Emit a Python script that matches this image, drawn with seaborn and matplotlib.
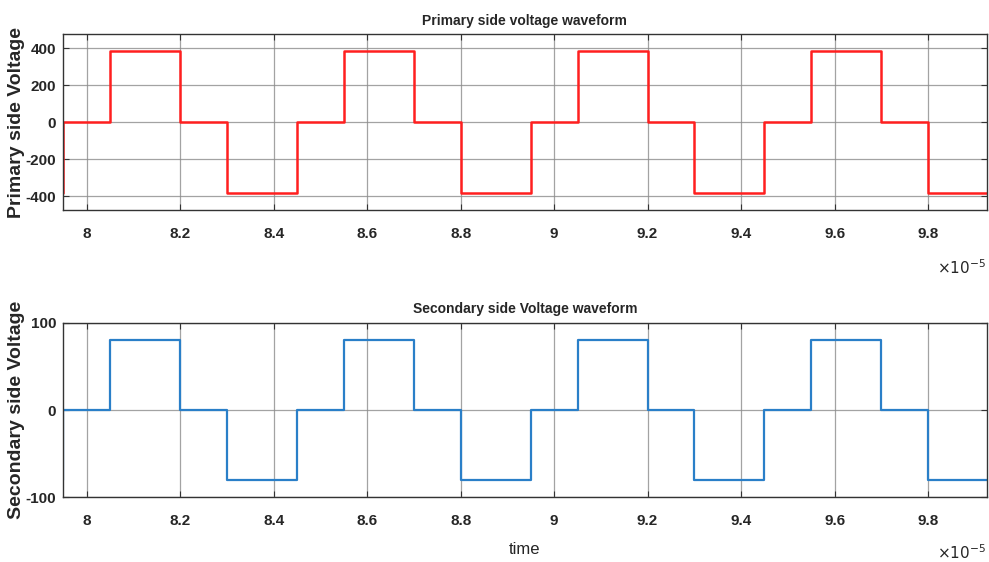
import numpy as np
import pandas as pd
import matplotlib
matplotlib.use("Agg")
import matplotlib.pyplot as plt
import seaborn as sns

# breakpoints of the step waveforms (units of 1e-5 s)
t_break = [7.90, 7.95, 8.05, 8.20, 8.30, 8.45, 8.55, 8.70, 8.80, 8.95,
           9.05, 9.20, 9.30, 9.45, 9.55, 9.70, 9.80, 9.95]
primary_v = [-385, 0, 385, 0, -385, 0, 385, 0, -385, 0,
             385, 0, -385, 0, 385, 0, -385, -385]
secondary_v = [-80, 0, 80, 0, -80, 0, 80, 0, -80, 0,
               80, 0, -80, 0, 80, 0, -80, -80]

x_ticks = [8, 8.2, 8.4, 8.6, 8.8, 9, 9.2, 9.4, 9.6, 9.8]
x_ticklabels = ["8", "8.2", "8.4", "8.6", "8.8", "9", "9.2", "9.4", "9.6", "9.8"]
prim_yticks = [-400, -200, 0, 200, 400]
sec_yticks = [-100, 0, 100]

df = pd.DataFrame({"time": t_break, "primary": primary_v, "secondary": secondary_v})

sns.set_theme(style="white")
plt.rcParams["font.family"] = ["Liberation Sans", "DejaVu Sans"]

fig = plt.figure(figsize=(9.89, 5.62), dpi=100)
ax1 = fig.add_axes([0.064, 0.6263, 0.9335, 0.3127])
ax2 = fig.add_axes([0.064, 0.1151, 0.9335, 0.3102])

sns.lineplot(data=df, x="time", y="primary", ax=ax1, color="#ff1f1f",
             drawstyle="steps-post", linewidth=1.8, sort=False, estimator=None)
sns.lineplot(data=df, x="time", y="secondary", ax=ax2, color="#2a7fc8",
             drawstyle="steps-post", linewidth=1.6, sort=False, estimator=None)

for ax, yt, ylim, off in [(ax1, prim_yticks, (-475, 475), -0.33),
                          (ax2, sec_yticks, (-100, 100), -0.315)]:
    ax.set_xlim(7.95, 9.925)
    ax.set_ylim(*ylim)
    ax.set_xticks(x_ticks)
    ax.set_xticklabels(x_ticklabels)
    ax.set_yticks(yt)
    ax.set_yticklabels([str(v) for v in yt])
    ax.grid(True, color="#8c8c8c", linewidth=0.9, alpha=0.8)
    ax.set_axisbelow(True)
    for s in ax.spines.values():
        s.set_color("#333333")
        s.set_linewidth(1.0)
        s.set_visible(True)
    ax.tick_params(axis="both", direction="in", length=4, width=0.8, color="#333333",
                   labelsize=11, labelcolor="#262626", top=True, right=True,
                   bottom=True, left=True)
    ax.tick_params(axis="x", pad=12)
    ax.tick_params(axis="y", pad=5)
    for lab in ax.get_xticklabels() + ax.get_yticklabels():
        lab.set_fontweight("bold")
    ax.text(0.999, off, r"$\times10^{-5}$", transform=ax.transAxes, ha="right",
            va="center", fontsize=11, color="#262626")

ax1.set_title("Primary side voltage waveform", fontsize=10, fontweight="bold",
              color="#262626", pad=7)
ax2.set_title("Secondary side Voltage waveform", fontsize=10, fontweight="bold",
              color="#262626", pad=7)
ax1.set_xlabel("")
ax2.set_xlabel("time", fontsize=12, color="#262626", labelpad=10)
ax1.set_ylabel("Primary side Voltage", fontsize=14, fontweight="bold",
               color="#262626")
ax2.set_ylabel("Secondary side Voltage", fontsize=14, fontweight="bold",
               color="#262626")
ax1.yaxis.set_label_coords(-0.041, 0.5)
ax2.yaxis.set_label_coords(-0.041, 0.5)

fig.savefig("out.png", dpi=100)
